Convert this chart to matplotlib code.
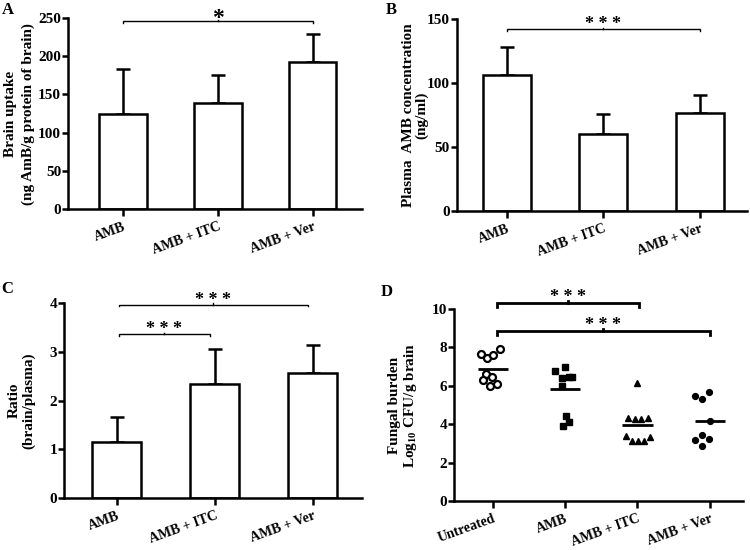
import matplotlib
matplotlib.use("Agg")
import matplotlib.pyplot as plt

plt.rcParams['font.family'] = ['Liberation Serif', 'DejaVu Serif']
plt.rcParams['font.weight'] = 'bold'
plt.rcParams['mathtext.fontset'] = 'custom'
plt.rcParams['mathtext.rm'] = 'Liberation Serif:bold'
plt.rcParams['mathtext.bf'] = 'Liberation Serif:bold'

# ---- data ----
groups = ['AMB', 'AMB + ITC', 'AMB + Ver']

uptake_mean = [124, 139, 192]
uptake_sd = [59, 37, 37]

plasma_mean = [106.5, 60.5, 76.5]
plasma_sd = [21.5, 15, 14.5]

ratio_mean = [1.15, 2.34, 2.56]
ratio_sd = [0.51, 0.71, 0.57]

d_groups = ['Untreated', 'AMB', 'AMB + ITC', 'AMB + Ver']
fungal_untreated = [7.68, 7.47, 7.6, 7.9, 6.6, 6.44, 6.28, 5.97, 6.08]
fungal_amb = [6.77, 6.96, 6.41, 6.44, 6.48, 6.0, 4.43, 4.11, 3.92]
fungal_itc = [6.16, 4.34, 4.29, 4.29, 4.3, 3.39, 3.13, 3.13, 3.13, 3.35]
fungal_ver = [5.47, 5.31, 5.69, 4.17, 3.44, 3.16, 3.21, 2.88]
fungal_means = [6.88, 5.83, 3.94, 4.15]
# jitter offsets of points inside each column (x, in category units)
off_untreated = [-0.17, -0.08, 0.0, 0.1, -0.1, -0.01, -0.14, -0.04, 0.05]
off_amb = [-0.14, -0.01, -0.05, 0.05, 0.1, -0.05, 0.01, 0.05, -0.03]
off_itc = [0.0, -0.13, -0.04, 0.05, 0.14, -0.16, -0.07, 0.01, 0.09, 0.17]
off_ver = [-0.2, -0.11, -0.01, 0.0, -0.11, -0.2, -0.01, -0.11]

LW = 1.8
YT = 11     # y tick labels
XT = 10     # x tick labels
YL = 11     # y axis titles


def style_axes(ax, xlim, ylim, yticks):
    ax.spines['top'].set_visible(False)
    ax.spines['right'].set_visible(False)
    ax.spines['left'].set_linewidth(LW)
    ax.spines['bottom'].set_linewidth(LW)
    ax.set_xlim(*xlim)
    ax.set_ylim(*ylim)
    ax.set_yticks(yticks)
    ax.tick_params(axis='y', width=LW, length=4, labelsize=YT, pad=1)
    ax.tick_params(axis='x', width=LW, length=5, labelsize=XT, pad=3)
    for lab in ax.get_yticklabels():
        lab.set_fontweight('bold')


def set_xlabels(ax, labels):
    ax.set_xticks(range(len(labels)))
    ax.set_xticklabels(labels, rotation=20, ha='right', va='top',
                       rotation_mode='anchor', fontweight='bold')


def bar_panel(ax, means, sds):
    x = list(range(len(means)))
    ax.bar(x, means, width=0.5, color='white', edgecolor='black',
           linewidth=LW, zorder=2)
    ax.errorbar(x, means, yerr=[[0] * len(sds), sds], fmt='none',
                ecolor='black', elinewidth=LW, capsize=5, capthick=LW,
                zorder=1)


def bracket(ax, x1, x2, y, drop, text, lw=1.0, tsize=13, toff=0):
    ax.plot([x1, x1, x2, x2], [y - drop, y, y, y - drop], color='black',
            lw=lw, clip_on=False, solid_joinstyle='miter')
    xm = (x1 + x2) / 2
    ax.plot([xm, xm], [y, y + drop * 0.6], color='black', lw=lw,
            clip_on=False)
    ax.annotate(text, (xm, y), xytext=(0, toff), textcoords='offset points',
                ha='center', va='baseline', fontsize=tsize,
                fontweight='bold', annotation_clip=False)


fig = plt.figure(figsize=(7.5, 5.5), dpi=100)

# ---- A ----
axA = fig.add_axes([0.0907, 0.62, 0.392, 0.347])
bar_panel(axA, uptake_mean, uptake_sd)
style_axes(axA, (-0.58, 2.52), (0, 250), [0, 50, 100, 150, 200, 250])
set_xlabels(axA, groups)
axA.set_ylabel('Brain uptake\n(ng AmB/g protein of brain)', fontsize=YL,
               fontweight='bold', linespacing=1.45, labelpad=2)
bracket(axA, 0, 2, 246.5, 2.5, '*', tsize=17, toff=-2)

# ---- B ----
axB = fig.add_axes([0.609, 0.6164, 0.387, 0.349])
bar_panel(axB, plasma_mean, plasma_sd)
style_axes(axB, (-0.52, 2.49), (0, 150), [0, 50, 100, 150])
set_xlabels(axB, groups)
axB.set_ylabel('Plasma  AMB concentration\n(ng/ml)', fontsize=YL,
               fontweight='bold', linespacing=1.0, labelpad=-1)
bracket(axB, 0, 2, 142, 1.5, '* * *', toff=0)

# ---- C ----
axC = fig.add_axes([0.0853, 0.0945, 0.397, 0.3545])
bar_panel(axC, ratio_mean, ratio_sd)
style_axes(axC, (-0.54, 2.5), (0, 4), [0, 1, 2, 3, 4])
set_xlabels(axC, groups)
axC.set_ylabel('Ratio\n(brain/plasma)', fontsize=YL, fontweight='bold',
               linespacing=1.1, labelpad=10)
bracket(axC, 0.02, 0.95, 3.37, 0.04, '* * *', toff=0)
bracket(axC, 0.02, 1.95, 3.97, 0.04, '* * *', toff=0)

# ---- D ----
axD = fig.add_axes([0.6053, 0.0891, 0.3853, 0.349])
mk = dict(linestyle='none', color='black', zorder=3)
axD.plot([0 + o for o in off_untreated], fungal_untreated, marker='o',
         markersize=5, markerfacecolor='white', markeredgewidth=1.6, **mk)
axD.plot([1 + o for o in off_amb], fungal_amb, marker='s', markersize=4.2,
         **mk)
axD.plot([2 + o for o in off_itc], fungal_itc, marker='^', markersize=4,
         **mk)
axD.plot([3 + o for o in off_ver], fungal_ver, marker='o', markersize=4.2,
         **mk)
axD.hlines(fungal_means, [i - 0.21 for i in range(4)],
           [i + 0.21 for i in range(4)], colors='black', lw=2, zorder=2)
style_axes(axD, (-0.54, 3.46), (0, 10), [0, 2, 4, 6, 8, 10])
set_xlabels(axD, d_groups)
axD.set_ylabel('Fungal burden\nLog$_{10}$ CFU/g brain', fontsize=YL,
               fontweight='bold', linespacing=1.1, labelpad=9)
bracket(axD, 0.05, 2.02, 10.3, 0.2, '* * *', lw=2, toff=1)
bracket(axD, 0.05, 3.0, 8.85, 0.2, '* * *', lw=2, toff=1)

# panel letters
for lab, x, y in [('A', 0.002, 0.981), ('B', 0.515, 0.981),
                  ('C', 0.002, 0.474), ('D', 0.508, 0.469)]:
    fig.text(x, y, lab, fontsize=12, fontweight='bold', va='center')

fig.savefig('out.png', dpi=100)
